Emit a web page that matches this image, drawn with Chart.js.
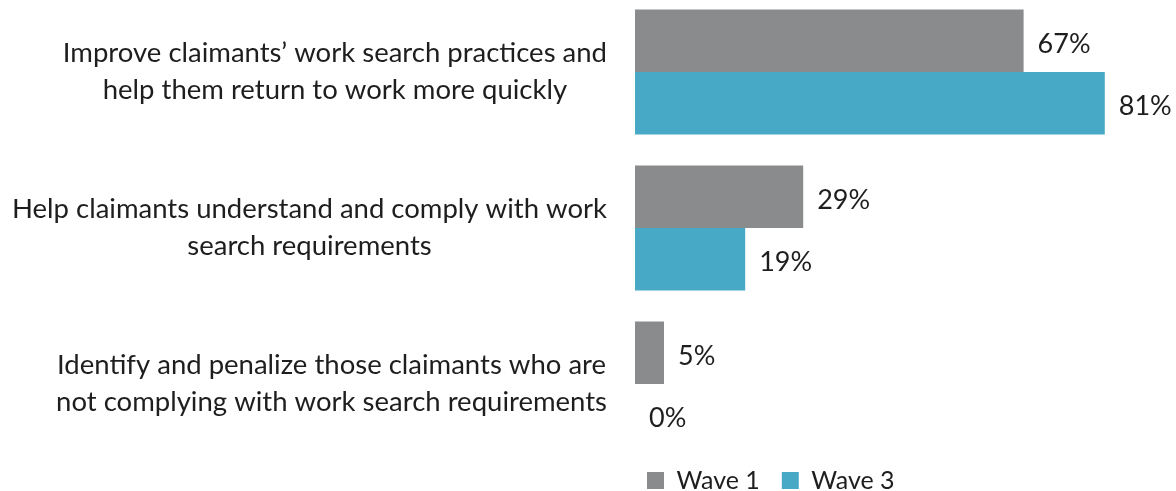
<!DOCTYPE html>
<html>
<head>
<meta charset="utf-8">
<script src="https://cdn.jsdelivr.net/npm/chart.js@4"></script>
<style>
  html, body { margin: 0; padding: 0; background: #fff; overflow: hidden; }
  #wrap { position: absolute; left: 0; top: -6px; width: 1176px; height: 525px; }
</style>
</head>
<body>
<div id="wrap"><canvas id="chart"></canvas></div>
<script>
var categories = [
    ["Improve claimants\u2019 work search practices and", "help them return to work more quickly"],
    ["Help claimants understand and comply with work", "search requirements"],
    ["Identify and penalize those claimants who are", "not complying with work search requirements"]
]
var wave1 = [67, 29, 5]
var wave3 = [81, 19, 0]
var seriesNames = ["Wave 1", "Wave 3"]
var colors = ["#898b8c", "#47a9c5"]

var font = "Lato"
var textColor = "#1e1e1e"

// category labels: each block right aligned, its lines centred on each other
var catLabels = {
    id: "catLabels",
    afterDraw(chart) {
        var ctx = chart.ctx
        var y = chart.scales.y
        ctx.save()
        ctx.font = "27.5px " + font
        ctx.fillStyle = textColor
        ctx.textBaseline = "middle"
        ctx.textAlign = "center"
        chart.data.labels.forEach((lines, i) => {
            var w = Math.max(...lines.map(l => ctx.measureText(l).width))
            var cx = y.right - 28 - w / 2
            var cy = y.getPixelForTick(i)
            var lh = 37
            lines.forEach((l, k) => {
                ctx.fillText(l, cx, cy + (k - (lines.length - 1) / 2) * lh)
            })
        })
        ctx.restore()
    }
}

// value labels to the right of each bar
var valueLabels = {
    id: "valueLabels",
    afterDatasetsDraw(chart) {
        var ctx = chart.ctx
        ctx.save()
        ctx.font = "27px " + font
        ctx.fillStyle = textColor
        ctx.textBaseline = "middle"
        ctx.textAlign = "left"
        chart.data.datasets.forEach((ds, i) => {
            chart.getDatasetMeta(i).data.forEach((bar, j) => {
                ctx.fillText(ds.data[j] + "%", bar.x + 14, bar.y + 3)
            })
        })
        ctx.restore()
    }
}

// legend sits tighter under the bars than its own padding allows
var legendShift = {
    id: "legendShift",
    afterLayout(chart) {
        chart.legend.left -= 10
        chart.legend.right -= 10
        chart.legend.top -= 16
        chart.legend.bottom -= 16
    }
}

new Chart("chart", {
    type: "bar",
    data: {
        labels: categories,
        datasets: [{
            label: seriesNames[0],
            data: wave1,
            backgroundColor: colors[0]
        }, {
            label: seriesNames[1],
            data: wave3,
            backgroundColor: colors[1]
        }]
    },
    options: {
        indexAxis: "y",
        responsive: true,
        maintainAspectRatio: false,
        animation: false,
        layout: {padding: {left: 0, right: 19, top: 0, bottom: 0}},
        datasets: {bar: {categoryPercentage: 0.8, barPercentage: 1.0}},
        scales: {
            x: {display: false, min: 0, max: 90},
            y: {
                grid: {display: false, drawTicks: false},
                border: {display: false},
                ticks: {display: false},
                afterFit(axis) { axis.width = 635 }
            }
        },
        plugins: {
            legend: {
                position: "bottom",
                fullSize: false,
                align: "start",
                labels: {
                    boxWidth: 17,
                    boxHeight: 17,
                    padding: 22,
                    color: textColor,
                    font: {family: font, size: 25}
                }
            },
            tooltip: {enabled: false}
        }
    },
    plugins: [catLabels, valueLabels, legendShift]
});
</script>
</body>
</html>
